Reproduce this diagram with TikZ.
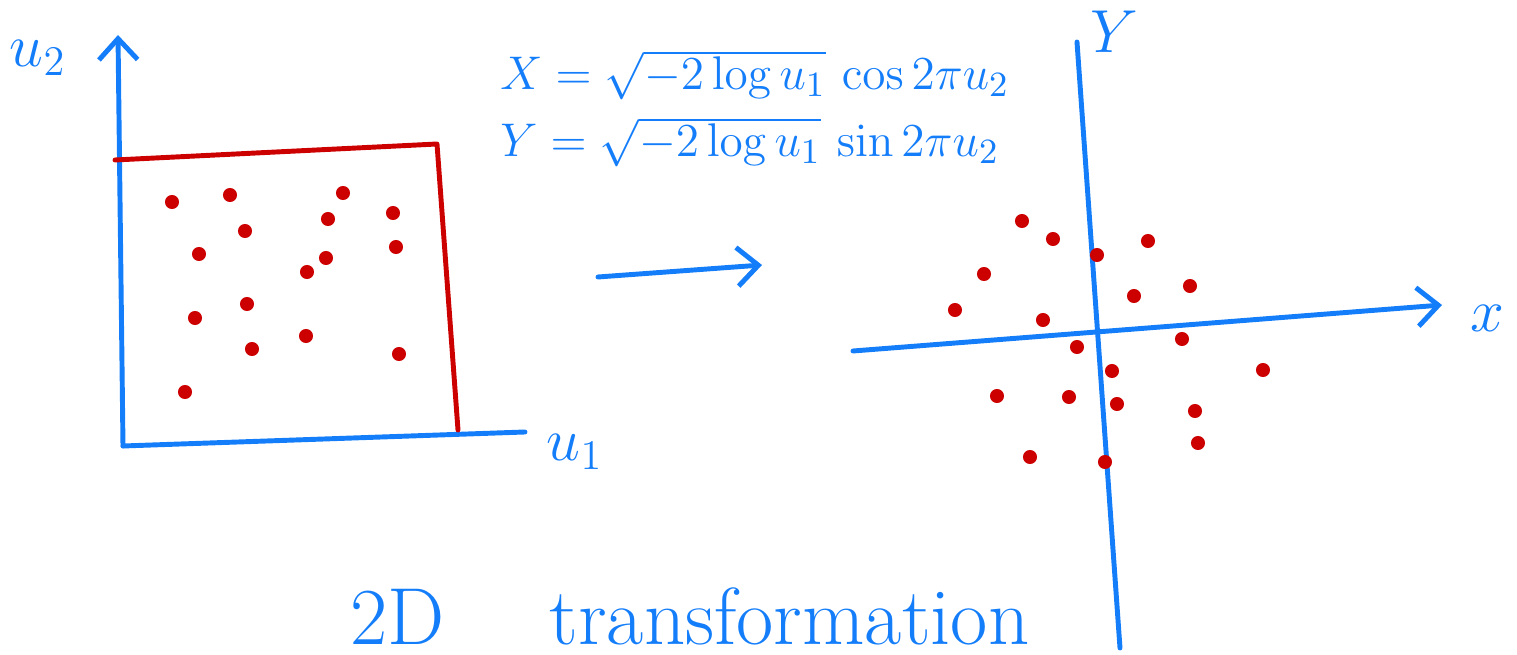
\documentclass[tikz,border=0pt]{standalone}
\usetikzlibrary{arrows.meta,positioning}
\definecolor{penblue}{RGB}{20,125,250}
\definecolor{penred}{RGB}{205,0,0}

\begin{document}
\begin{tikzpicture}[
    x=0.01cm, y=-0.01cm,
    axis/.style={draw=penblue, line width=1.4pt, line cap=round, line join=round},
    frame/.style={draw=penred, line width=1.4pt, line cap=round, line join=round},
    dot/.style={circle, fill=penred, inner sep=0pt, minimum size=4pt},
    lbl/.style={text=penblue, font=\fontsize{17}{20}\selectfont},
    formula/.style={text=penblue, font=\fontsize{13}{16}\selectfont, anchor=west},
    arrow/.style={axis, -{Straight Barb[length=6pt,width=11pt]}}
]
\useasboundingbox (0,0) rectangle (1517,655);

% Uniform square
\coordinate (O1) at (123,446);
\coordinate (U2top) at (118,35);
\coordinate (U1end) at (525,432);
\draw[arrow] (O1) -- (U2top);
\draw[axis] (O1) -- (U1end);
\node[lbl] (u2) at (38,58) {$u_2$};
\node[lbl] (u1) at (575,452) {$u_1$};

\coordinate (SqA) at (115,160);
\coordinate (SqB) at (437,144);
\coordinate (SqC) at (458,430);
\draw[frame] (SqA) -- (SqB) -- (SqC);

\foreach \p [count=\i] in {(172,202),(230,195),(343,193),(393,213),(328,219),
    (245,231),(199,254),(396,247),(326,258),(307,272),(247,304),(195,318),
    (306,336),(252,349),(399,354),(185,392)}
    \node[dot] (a\i) at \p {};

% Formulas
\node[formula] (fx) at (488,75)
    {\scalebox{1.12}{$X = \sqrt{-2\log u_1}\,\cos 2\pi u_2$}};
\node[formula] (fy) at (488,142)
    {\scalebox{1.12}{$Y = \sqrt{-2\log u_1}\,\sin 2\pi u_2$}};

% Map
\coordinate (MapA) at (598,277);
\coordinate (MapB) at (762,265);
\draw[arrow] (MapA) -- (MapB);

% Gaussian plane
\coordinate (YA) at (1077,42);
\coordinate (YB) at (1120,648);
\coordinate (XA) at (853,351);
\coordinate (XB) at (1442,305);
\draw[axis] (YA) -- (YB);
\draw[arrow] (XA) -- (XB);
\node[lbl] (ylab) at (1114,32) {$Y$};
\node[lbl] (xlab) at (1487,318) {$x$};

\foreach \p [count=\i] in {(1022,221),(1053,239),(1148,241),(1097,255),
    (984,274),(1190,286),(1134,296),(955,310),(1043,320),(1182,339),
    (1077,347),(1112,371),(1263,370),(997,396),(1069,397),(1117,404),
    (1195,411),(1198,443),(1030,457),(1105,462)}
    \node[dot] (b\i) at \p {};

% Caption
\node[lbl, anchor=west, font=\fontsize{23}{27}\selectfont] (cap) at (338,616)
    {2D\hspace{1.05cm}transformation};
\end{tikzpicture}
\end{document}
